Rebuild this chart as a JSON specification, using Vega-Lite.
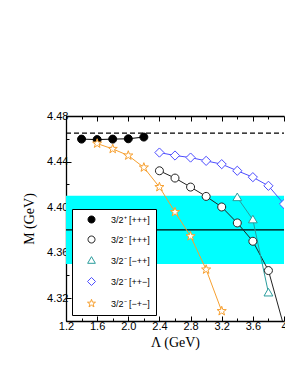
{
  "$schema": "https://vega.github.io/schema/vega-lite/v6.json",
  "width": 218,
  "height": 205,
  "autosize": {"type": "none"},
  "padding": {"left": 66, "top": 116, "right": 1, "bottom": 48},
  "background": "white",
  "config": {
    "view": {"stroke": null},
    "axis": {"labelFont": "Liberation Sans", "labelFontSize": 11, "labelColor": "#000", "titleFont": "Liberation Serif", "titleFontSize": 14, "titleFontWeight": "normal", "titleColor": "#000", "domainColor": "#000", "domainWidth": 1.3, "tickColor": "#000", "tickWidth": 1, "grid": false},
    "legend": {"fillColor": "white", "strokeColor": "#000", "padding": 6,
      "symbolSize": 49, "rowPadding": 9, "labelFont": "Liberation Sans", "labelFontSize": 9, "labelColor": "#000", "symbolStrokeWidth": 1}
  },
  "datasets": {
    "pts": [
      {"s": "3/2⁺ [+++]", "x": 1.4, "y": 4.4597},
      {"s": "3/2⁺ [+++]", "x": 1.6, "y": 4.4593},
      {"s": "3/2⁺ [+++]", "x": 1.8, "y": 4.4597},
      {"s": "3/2⁺ [+++]", "x": 2.0, "y": 4.4600},
      {"s": "3/2⁺ [+++]", "x": 2.2, "y": 4.4615},
      {"s": "3/2⁻ [+++]", "x": 2.4, "y": 4.4319},
      {"s": "3/2⁻ [+++]", "x": 2.6, "y": 4.4255},
      {"s": "3/2⁻ [+++]", "x": 2.8, "y": 4.4176},
      {"s": "3/2⁻ [+++]", "x": 3.0, "y": 4.4094},
      {"s": "3/2⁻ [+++]", "x": 3.2, "y": 4.4001},
      {"s": "3/2⁻ [+++]", "x": 3.4, "y": 4.3861},
      {"s": "3/2⁻ [+++]", "x": 3.6, "y": 4.3700},
      {"s": "3/2⁻ [+++]", "x": 3.8, "y": 4.3443},
      {"s": "3/2⁻ [+++]", "x": 4.0, "y": 4.2950},
      {"s": "3/2⁻ [−++]", "x": 3.4, "y": 4.4085},
      {"s": "3/2⁻ [−++]", "x": 3.6, "y": 4.3890},
      {"s": "3/2⁻ [−++]", "x": 3.8, "y": 4.3248},
      {"s": "3/2⁻ [++−]", "x": 2.4, "y": 4.4479},
      {"s": "3/2⁻ [++−]", "x": 2.6, "y": 4.4453},
      {"s": "3/2⁻ [++−]", "x": 2.8, "y": 4.4435},
      {"s": "3/2⁻ [++−]", "x": 3.0, "y": 4.4406},
      {"s": "3/2⁻ [++−]", "x": 3.2, "y": 4.4377},
      {"s": "3/2⁻ [++−]", "x": 3.4, "y": 4.4319},
      {"s": "3/2⁻ [++−]", "x": 3.6, "y": 4.4263},
      {"s": "3/2⁻ [++−]", "x": 3.8, "y": 4.4187},
      {"s": "3/2⁻ [++−]", "x": 4.0, "y": 4.4027},
      {"s": "3/2⁻ [−+−]", "x": 1.6, "y": 4.4558},
      {"s": "3/2⁻ [−+−]", "x": 1.8, "y": 4.4511},
      {"s": "3/2⁻ [−+−]", "x": 2.0, "y": 4.4453},
      {"s": "3/2⁻ [−+−]", "x": 2.2, "y": 4.4348},
      {"s": "3/2⁻ [−+−]", "x": 2.4, "y": 4.4176},
      {"s": "3/2⁻ [−+−]", "x": 2.6, "y": 4.3957},
      {"s": "3/2⁻ [−+−]", "x": 2.8, "y": 4.3744},
      {"s": "3/2⁻ [−+−]", "x": 3.0, "y": 4.3452},
      {"s": "3/2⁻ [−+−]", "x": 3.2, "y": 4.3087}
    ]
  },
  "resolve": {"axis": {"x": "independent", "y": "independent"}},
  "layer": [
    {
      "data": {"values": [{"x": 1.2, "x2": 4.0, "y": 4.35, "y2": 4.41}]},
      "mark": {"type": "rect", "color": "#00ffff"},
      "encoding": {
        "x": {"field": "x", "type": "quantitative", "scale": {"domain": [1.2, 4.0], "nice": false, "zero": false},
          "axis": {"orient": "top", "title": null, "labels": false, "domain": false, "values": [1.4, 1.8, 2.2, 2.6, 3.0, 3.4, 3.8], "tickSize": -3}},
        "x2": {"field": "x2"},
        "y": {"field": "y", "type": "quantitative", "scale": {"domain": [4.30, 4.48], "nice": false, "zero": false}, "axis": null},
        "y2": {"field": "y2"}
      }
    },
    {
      "data": {"values": [{"x": 1.2, "x2": 4.0, "y": 4.38}]},
      "mark": {"type": "rule", "color": "#000", "strokeWidth": 1.3},
      "encoding": {
        "x": {"field": "x", "type": "quantitative",
          "axis": {"orient": "bottom", "title": null, "labels": false, "domain": false, "values": [1.4, 1.8, 2.2, 2.6, 3.0, 3.4, 3.8], "tickSize": -3}},
        "x2": {"field": "x2"},
        "y": {"field": "y", "type": "quantitative",
          "axis": {"orient": "left", "title": null, "labels": false, "domain": false, "values": [4.30, 4.34, 4.38, 4.42, 4.46], "tickSize": -3}}
      }
    },
    {
      "data": {"name": "pts"},
      "mark": {"type": "line", "strokeWidth": 1, "clip": true},
      "encoding": {
        "x": {"field": "x", "type": "quantitative",
          "axis": {"title": "Λ (GeV)", "orient": "bottom", "values": [1.2, 1.6, 2.0, 2.4, 2.8, 3.2, 3.6, 4.0], "format": ".1f", "tickSize": -5, "labelPadding": 4, "titlePadding": 4, "labelOverlap": false, "labelSeparation": -40, "labelFlush": false,
            "labelExpr": "datum.value == 4 ? '4' : datum.label"}},
        "y": {"field": "y", "type": "quantitative",
          "axis": {"title": "M (GeV)", "orient": "left", "values": [4.32, 4.36, 4.40, 4.44, 4.48], "format": ".2f", "tickSize": -5, "labelPadding": 3, "titlePadding": 10, "labelOverlap": false}},
        "detail": {"field": "s"},
        "color": {"field": "s", "type": "nominal",
          "scale": {"domain": ["3/2⁺ [+++]", "3/2⁻ [+++]", "3/2⁻ [−++]", "3/2⁻ [++−]", "3/2⁻ [−+−]"], "range": ["#000000", "#222222", "#2a9d9d", "#4d4dff", "#f7a030"]},
          "legend": {"title": null, "orient": "bottom-left", "offset": 6, "symbolOffset": 9, "labelOffset": 15}}
      }
    },
    {
      "data": {"name": "pts"},
      "mark": {"type": "point", "filled": false, "size": 64, "strokeWidth": 1, "opacity": 1, "clip": true},
      "encoding": {
        "x": {"field": "x", "type": "quantitative", "axis": null},
        "y": {"field": "y", "type": "quantitative", "axis": null},
        "stroke": {"field": "s", "type": "nominal",
          "scale": {"domain": ["3/2⁺ [+++]", "3/2⁻ [+++]", "3/2⁻ [−++]", "3/2⁻ [++−]", "3/2⁻ [−+−]"], "range": ["#000000", "#222222", "#2a9d9d", "#4d4dff", "#f7a030"]},
          "legend": null},
        "fill": {"field": "s", "type": "nominal",
          "scale": {"domain": ["3/2⁺ [+++]", "3/2⁻ [+++]", "3/2⁻ [−++]", "3/2⁻ [++−]", "3/2⁻ [−+−]"], "range": ["#000000", "#ffffff", "#ffffff", "#ffffff", "#ffffff"]},
          "legend": null},
        "shape": {"field": "s", "type": "nominal",
          "scale": {"domain": ["3/2⁺ [+++]", "3/2⁻ [+++]", "3/2⁻ [−++]", "3/2⁻ [++−]", "3/2⁻ [−+−]"], "range": ["M-1,0A1,1 0 1,0 1,0A1,1 0 1,0 -1,0Z", "M-1,0A1,1 0 1,0 1,0A1,1 0 1,0 -1,0Z", "M0,-1.1L1.1,0.8L-1.1,0.8Z", "M0,-1.15L1.15,0L0,1.15L-1.15,0Z", "M0,-1.2L0.28,-0.39L1.14,-0.37L0.46,0.15L0.71,0.97L0,0.48L-0.71,0.97L-0.46,0.15L-1.14,-0.37L-0.28,-0.39Z"]},
          "legend": null}
      }
    },
    {
      "data": {"values": [{"x": 1.2, "x2": 4.0, "y": 4.465}]},
      "mark": {"type": "rule", "color": "#000", "strokeWidth": 1.3, "strokeDash": [5, 3]},
      "encoding": {
        "x": {"field": "x", "type": "quantitative",
          "axis": {"orient": "top", "title": null, "labels": false, "values": [1.2, 1.6, 2.0, 2.4, 2.8, 3.2, 3.6, 4.0], "tickSize": -5}},
        "x2": {"field": "x2"},
        "y": {"field": "y", "type": "quantitative", "axis": null}
      }
    }
  ]
}
